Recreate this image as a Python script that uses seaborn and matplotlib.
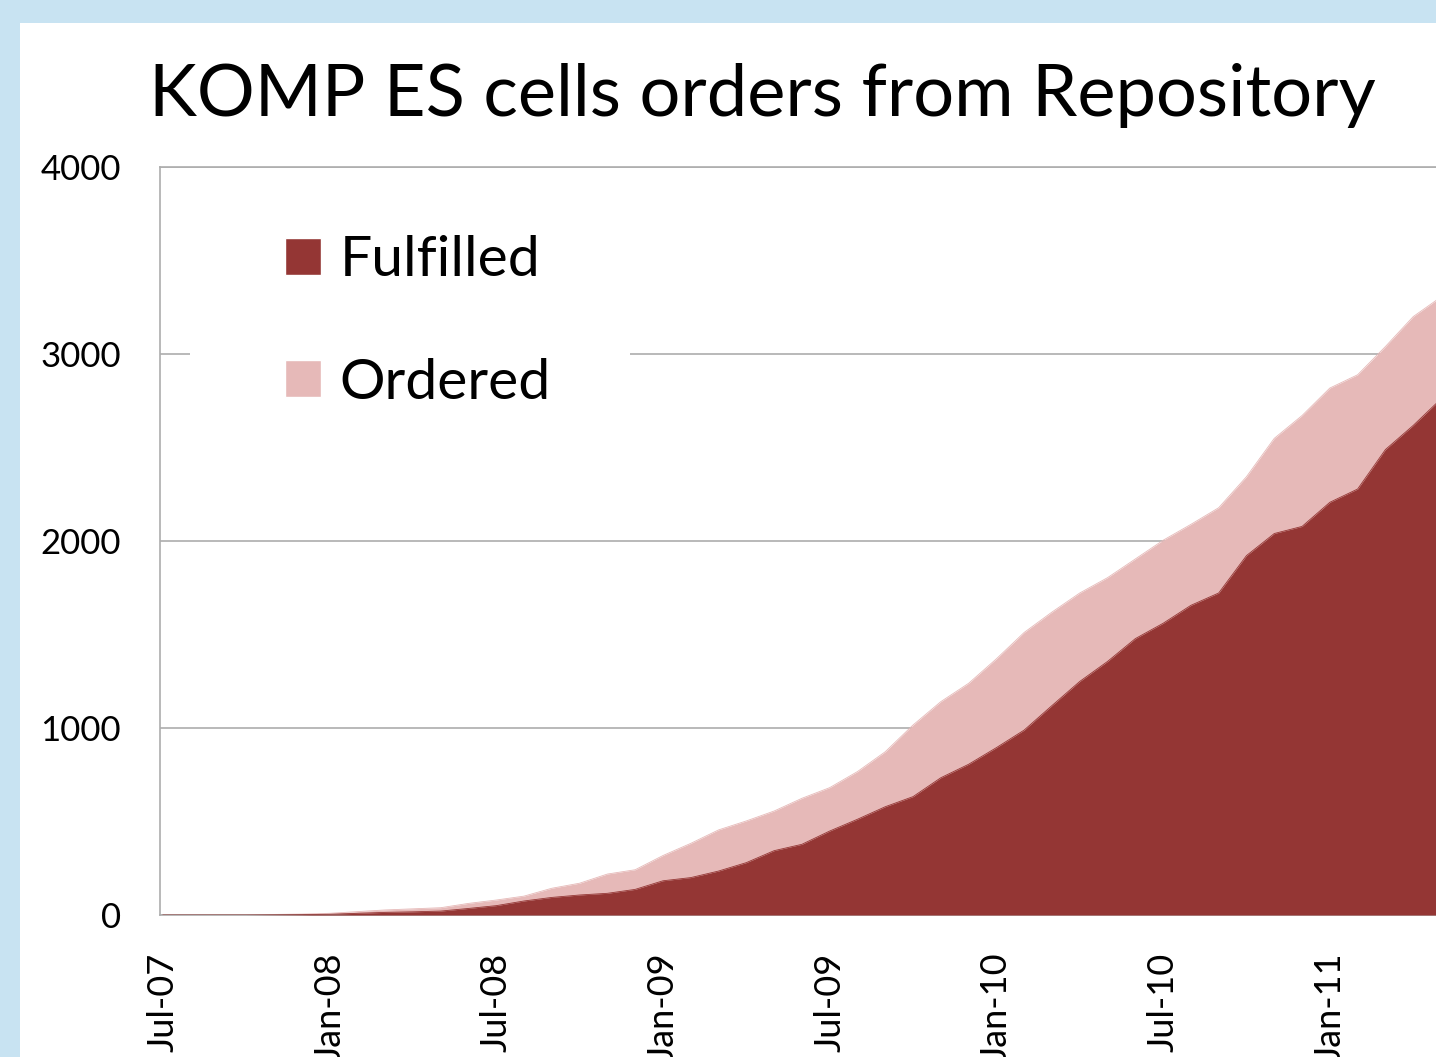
import matplotlib
matplotlib.use("Agg")
import matplotlib.pyplot as plt
from matplotlib.patches import Patch, Rectangle
import seaborn as sns
import pandas as pd

# Datos (mensual, Jul-07 a May-11)
meses = pd.date_range("2007-07-01", periods=47, freq="MS").strftime("%b-%y").tolist()
ordered = [0, 0, 1, 2, 3, 5, 9, 18, 27, 33,
           39, 62, 80, 101, 143, 170, 219, 242, 318, 383,
           455, 503, 556, 624, 681, 767, 873, 1016, 1141, 1239,
           1370, 1511, 1620, 1722, 1804, 1904, 2004, 2089, 2178, 2344,
           2549, 2671, 2818, 2889, 3040, 3200, 3305]
fulfilled = [0, 0, 0, 0, 1, 2, 4, 9, 14, 17,
             21, 35, 50, 75, 94, 107, 116, 137, 183, 200,
             235, 280, 344, 378, 449, 512, 579, 633, 734, 806,
             895, 989, 1120, 1249, 1356, 1478, 1560, 1656, 1722, 1922,
             2040, 2078, 2207, 2278, 2489, 2618, 2760]
etiquetas_x = ["Jul-07", "Jan-08", "Jul-08", "Jan-09", "Jul-09", "Jan-10", "Jul-10", "Jan-11"]
ticks_y = [0, 1000, 2000, 3000, 4000]

df = pd.DataFrame({"mes": meses, "idx": range(len(meses)),
                   "Ordered": ordered, "Fulfilled": fulfilled})

color_oscuro = "#943634"
color_claro = "#E6B9B8"

sns.set_style("white")
plt.rcParams["font.family"] = ["Lato", "DejaVu Sans"]
plt.rcParams["text.color"] = "black"
plt.rcParams["xtick.color"] = "black"
plt.rcParams["ytick.color"] = "black"

fig = plt.figure(figsize=(14.36, 10.57), dpi=100, facecolor="#C8E3F2")
fondo = Rectangle((20 / 1436, 0), 1, 1 - 23 / 1057, transform=fig.transFigure,
                  facecolor="white", edgecolor="none", zorder=-10)
fig.add_artist(fondo)

ax = fig.add_axes([160 / 1436, 142 / 1057, 1281 / 1436, 748 / 1057])
ax.set_zorder(1)
ax.set_facecolor("none")

ax.fill_between(df["idx"], 0, df["Ordered"], color=color_claro, lw=0, zorder=2)
ax.fill_between(df["idx"], 0, df["Fulfilled"], color=color_oscuro, lw=0, zorder=3)
sns.lineplot(data=df, x="idx", y="Ordered", color=color_claro, lw=0.6, ax=ax, zorder=2)
sns.lineplot(data=df, x="idx", y="Fulfilled", color=color_oscuro, lw=0.6, ax=ax, zorder=3)

ax.set_xlim(-0.1, 46)
ax.set_ylim(0, 4000)
ax.set_yticks(ticks_y)
ax.set_yticklabels([str(t) for t in ticks_y], fontsize=25)
ax.set_xticks(range(0, 47, 6))
ax.set_xticklabels(etiquetas_x, rotation=90, fontsize=26, va="top")
ax.tick_params(axis="y", length=0, pad=28)
ax.tick_params(axis="x", length=0, pad=27)
ax.set_xlabel("")
ax.set_ylabel("")
ax.yaxis.grid(True, color="#ADADAD", lw=1.2, zorder=1)
ax.set_axisbelow(True)
for lado in ["left", "top", "bottom", "right"]:
    ax.spines[lado].set_color("#ADADAD")
    ax.spines[lado].set_linewidth(1.2)

fig.text(762 / 1436, 1 - 96 / 1057, "KOMP ES cells orders from Repository",
         fontsize=52, ha="center", va="center", color="black")

# fondo blanco de la leyenda (tapa la linea de 3000)
fondo_leyenda = Rectangle((190 / 1436, 1 - 430 / 1057), 440 / 1436, 230 / 1057,
                          transform=fig.transFigure, facecolor="white", edgecolor="none", zorder=0.8)
ax.add_artist(fondo_leyenda)

handles = [Patch(facecolor=color_oscuro, label="Fulfilled"),
           Patch(facecolor=color_claro, label="Ordered")]
leg = ax.legend(handles=handles, loc="center left", bbox_to_anchor=(285 / 1436, 1 - 322 / 1057),
                bbox_transform=fig.transFigure, fontsize=41, frameon=False,
                handlelength=0.63, handleheight=0.63, handletextpad=0.33,
                labelspacing=1.25, borderpad=0, borderaxespad=0)
leg.set_zorder(5)

fig.savefig("out.png", dpi=100, facecolor=fig.get_facecolor())
